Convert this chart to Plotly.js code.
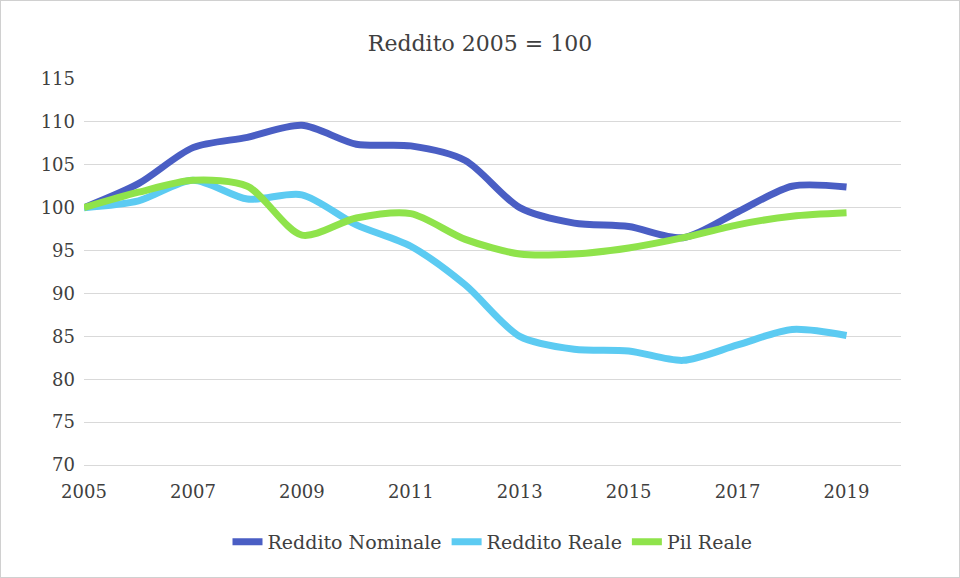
<!DOCTYPE html>
<html>
<head>
<meta charset="utf-8">
<script src="https://cdn.plot.ly/plotly-3.0.1.min.js"></script>
<style>
  html, body { margin: 0; padding: 0; background: #fff; }
  #plot { width: 960px; height: 578px; box-sizing: border-box; border: 1px solid #d0d0d0; }
</style>
</head>
<body>
<div id="plot"></div>
<script>
let years = [2005, 2006, 2007, 2008, 2009, 2010, 2011, 2012, 2013, 2014, 2015, 2016, 2017, 2018, 2019];
let redditoNominale = [100, 102.8, 107, 108.2, 109.6, 107.4, 107.2, 105.5, 100, 98.2, 97.8, 96.5, 99.5, 102.5, 102.4];
let redditoReale = [100, 100.8, 103.2, 101, 101.5, 98, 95.5, 91, 85, 83.5, 83.3, 82.2, 84, 85.8, 85.1];
let pilReale = [100, 101.8, 103.2, 102.5, 96.8, 98.8, 99.3, 96.3, 94.6, 94.6, 95.3, 96.5, 98, 99, 99.4];
let xTicks = [2005, 2007, 2009, 2011, 2013, 2015, 2017, 2019];

function serie(name, y, color) {
  return {
    x: years, y: y, name: name, type: 'scatter', mode: 'lines',
    line: { color: color, width: 7, shape: 'spline', smoothing: 0.8 }
  };
}

let data = [
  serie('Reddito Nominale', redditoNominale, '#4a5ec4'),
  serie('Reddito Reale', redditoReale, '#5ccbf2'),
  serie('Pil Reale', pilReale, '#8fe34b')
];

let font = { family: 'DejaVu Serif, Liberation Serif, serif', color: '#404040', size: 18 };

Plotly.newPlot('plot', data, {
  width: 958, height: 576,
  font: font,
  title: { text: 'Reddito 2005 = 100', x: 0.5, y: 0.94, font: { size: 22, family: font.family, color: '#404040' } },
  margin: { l: 83, r: 58, t: 78, b: 112 },
  showlegend: true,
  legend: { orientation: 'h', x: 0.5, xanchor: 'center', y: -0.15, yanchor: 'top', font: { size: 19 } },
  xaxis: {
    range: [2005, 2020], tickvals: xTicks, showgrid: false, zeroline: false,
    showline: true, linecolor: '#d9d9d9', ticks: 'outside', ticklen: 0, ticklabelstandoff: 10
  },
  yaxis: {
    range: [70, 115], dtick: 5, gridcolor: '#d9d9d9', zeroline: false,
    showline: false, ticks: '', ticklabelstandoff: 8
  },
  plot_bgcolor: '#fff', paper_bgcolor: '#fff'
}, { displayModeBar: false });
</script>
</body>
</html>
